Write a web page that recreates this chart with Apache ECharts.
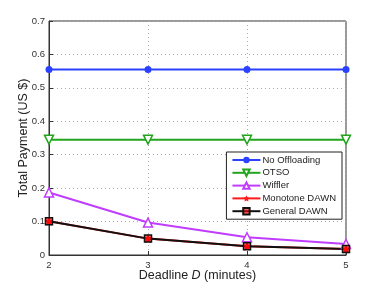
<!DOCTYPE html>
<html><head><meta charset="utf-8">
<script src="https://cdn.jsdelivr.net/npm/echarts@6/dist/echarts.min.js"></script>
<style>html,body{margin:0;padding:0;background:#fff}#c{width:382px;height:287px}</style>
</head><body><div id="c"></div>
<script>
const deadlines = [2, 3, 4, 5];
const noOffloading = [0.555, 0.555, 0.555, 0.555];
const otso = [0.345, 0.345, 0.345, 0.345];
const wiffler = [0.187, 0.097, 0.053, 0.033];
const monotoneDawn = [0.101, 0.049, 0.026, 0.018];
const generalDawn = [0.101, 0.049, 0.026, 0.018];
const yTicks = [0, 0.1, 0.2, 0.3, 0.4, 0.5, 0.6, 0.7];

const pair = a => deadlines.map((d, i) => [d, a[i]]);
const star = 'path://M0,-10 L2.9,-4 L9.5,-3.1 L4.7,1.5 L5.9,8.1 L0,5 L-5.9,8.1 L-4.7,1.5 L-9.5,-3.1 L-2.9,-4 Z';
const font = 'Liberation Sans, Arial, sans-serif';
const chart = echarts.init(document.getElementById('c'), null, {renderer: 'canvas'});
chart.setOption({
  animation: false,
  backgroundColor: '#fff',
  textStyle: {fontFamily: font},
  grid: {left: 49, right: 36, top: 21, bottom: 32, show: true, borderColor: '#333', borderWidth: 1,
         containLabel: false, outerBoundsMode: 'none'},
  legend: {
    orient: 'vertical', right: 40, top: 152,
    backgroundColor: '#fff', borderColor: '#222', borderWidth: 1,
    padding: [3, 6, 3, 5], itemGap: 2.8, itemWidth: 28, itemHeight: 8,
    textStyle: {fontSize: 9.5, color: '#222', fontFamily: font, padding: [0, 0, 0, -3]},
    data: ['No Offloading', 'OTSO', 'Wiffler', 'Monotone DAWN', 'General DAWN']
  },
  xAxis: {
    type: 'value', min: 2, max: 5, interval: 1,
    name: '{a|Deadline }{b|D}{a| (minutes)}', nameLocation: 'middle', nameGap: 14, nameMoveOverlap: false,
    nameTextStyle: {rich: {a: {fontSize: 12.5, color: '#222', fontFamily: font}, b: {fontSize: 12.5, color: '#222', fontStyle: 'italic', fontFamily: font}}},
    axisLine: {lineStyle: {color: '#333'}},
    axisTick: {inside: true, length: 4, lineStyle: {color: '#333'}},
    axisLabel: {fontSize: 9.5, color: '#333', margin: 5},
    splitLine: {show: true, lineStyle: {type: [1, 3], color: '#aaa'}}
  },
  yAxis: {
    type: 'value', min: 0, max: 0.7, interval: 0.1,
    name: 'Total Payment (US $)', nameLocation: 'middle', nameGap: 19, nameMoveOverlap: false,
    nameTextStyle: {fontSize: 12.5, color: '#222'},
    axisLine: {show: true, lineStyle: {color: '#333'}},
    axisTick: {inside: true, length: 4, lineStyle: {color: '#333'}},
    axisLabel: {fontSize: 9.5, color: '#333', margin: 4, formatter: v => yTicks.includes(Math.round(v*10)/10) ? (Math.round(v*10)/10).toString() : ''},
    splitLine: {show: true, lineStyle: {type: [1, 3], color: '#aaa'}}
  },
  series: [
    {name: 'No Offloading', type: 'line', data: pair(noOffloading),
     lineStyle: {width: 2, color: '#2a42ff'}, symbol: 'circle', symbolSize: 7, itemStyle: {color: '#2a42ff'}},
    {name: 'OTSO', type: 'line', data: pair(otso),
     lineStyle: {width: 2, color: '#22a51c'}, symbol: 'triangle', symbolRotate: 180, symbolSize: 9,
     itemStyle: {color: '#ffffff', borderColor: '#22a51c', borderWidth: 1.5}},
    {name: 'Wiffler', type: 'line', data: pair(wiffler),
     lineStyle: {width: 2, color: '#c03cff'}, symbol: 'triangle', symbolSize: 9,
     itemStyle: {color: '#ffffff', borderColor: '#c03cff', borderWidth: 1.5}},
    {name: 'Monotone DAWN', type: 'line', data: pair(monotoneDawn),
     lineStyle: {width: 2, color: '#ff1a1a'}, symbol: star, symbolSize: 9, itemStyle: {color: '#ff1a1a'}},
    {name: 'General DAWN', type: 'line', data: pair(generalDawn),
     lineStyle: {width: 2, color: '#111'}, symbol: 'rect', symbolSize: 7,
     itemStyle: {color: 'rgba(255,0,0,0.6)', borderColor: '#111', borderWidth: 1.5}}
  ]
});
</script></body></html>
